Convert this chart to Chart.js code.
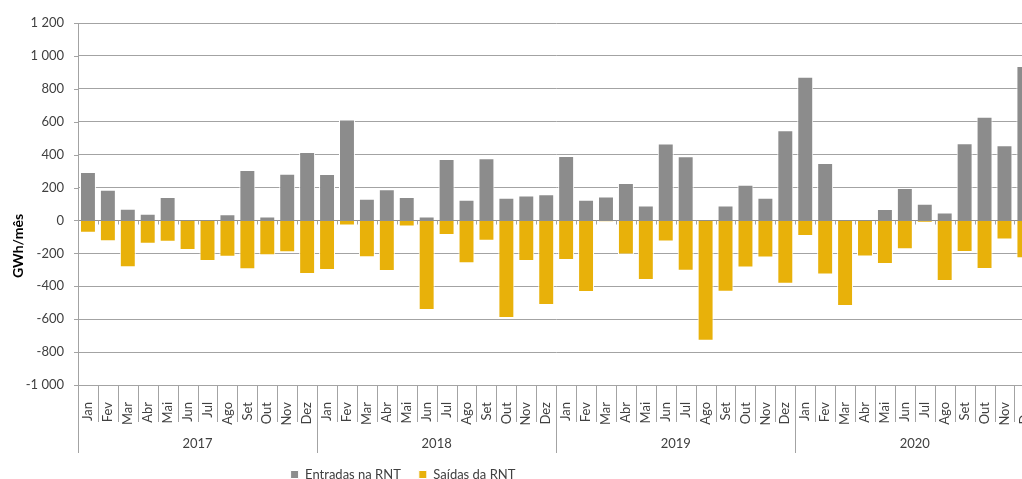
<!DOCTYPE html>
<html><head><meta charset="utf-8">
<script src="https://cdn.jsdelivr.net/npm/chart.js@4.4.0/dist/chart.umd.min.js"></script>
<style>
html,body{margin:0;padding:0;background:#fff;overflow:hidden;width:1022px;height:479px;}
#wrap{position:absolute;left:0;top:0;width:1057px;height:491px;}
</style></head><body>
<div id="wrap"><canvas id="c" width="1057" height="491"></canvas></div>
<script>
const years = ['2017','2018','2019','2020'];
const monthNames = ['Jan','Fev','Mar','Abr','Mai','Jun','Jul','Ago','Set','Out','Nov','Dez'];
const seriesNames = ['Entradas na RNT','Saídas da RNT'];
const entradas = [
  295, 187, 71, 41, 142, 0, 0, 37, 307, 24, 284, 416,
  282, 613, 132, 189, 142, 24, 374, 126, 378, 138, 152, 160,
  392, 126, 146, 227, 91, 467, 390, 0, 91, 217, 138, 548,
  873, 349, 0, 0, 69, 197, 102, 49, 469, 630, 457, 938
];
const saidas = [
  -75, -126, -284, -142, -130, -179, -246, -221, -297, -211, -193, -325,
  -301, -30, -223, -307, -37, -544, -89, -260, -124, -593, -246, -514,
  -240, -435, -8, -207, -362, -128, -305, -731, -433, -286, -225, -384,
  -95, -329, -520, -219, -264, -175, -12, -368, -191, -295, -116, -230
];
const yTickValues = [-1000,-800,-600,-400,-200,0,200,400,600,800,1000,1200];
const yTickLabels = ['-1 000','-800','-600','-400','-200','0','200','400','600','800','1 000','1 200'];
const yTitle = 'GWh/mês';

const labels = [];
years.forEach(y => monthNames.forEach(m => labels.push(m)));

const FONT = 'Lato, "Open Sans", sans-serif';
const GRID = '#a3a3a3';
const TEXT = '#404040';

const decor = {
  id: 'decor',
  beforeDraw(chart) {
    const lg = chart.legend;
    if (lg) { const c = 403; const w = lg.right - lg.left; lg.left = c - w/2; lg.right = c + w/2; }
  },
  afterDraw(chart) {
    const ctx = chart.ctx, x = chart.scales.x, x2 = chart.scales.x2, y = chart.scales.y;
    const area = chart.chartArea;
    const n = labels.length;
    ctx.save();
    ctx.strokeStyle = GRID;
    ctx.lineWidth = 1;
    const y0 = Math.round(y.getPixelForValue(0)) + 0.5;
    for (let i = 0; i <= n; i++) {
      const px = Math.round(x.getPixelForValue(i - 0.5)) + 0.5;
      const isYear = i % monthNames.length === 0;
      ctx.beginPath();
      ctx.moveTo(px, area.bottom);
      ctx.lineTo(px, isYear ? x2.bottom + 3 : area.bottom + 37);
      ctx.stroke();
      ctx.beginPath();
      ctx.moveTo(px, y0);
      ctx.lineTo(px, y0 + 4);
      ctx.stroke();
    }
    yTickValues.forEach(v => {
      const py = Math.round(y.getPixelForValue(v)) + 0.5;
      ctx.beginPath(); ctx.moveTo(area.left - 4, py); ctx.lineTo(area.left, py); ctx.stroke();
    });
    ctx.translate(18, area.top + 223);
    ctx.rotate(-Math.PI / 2);
    ctx.font = 'bold 14px ' + FONT;
    ctx.fillStyle = '#000';
    ctx.textAlign = 'center';
    ctx.textBaseline = 'middle';
    ctx.fillText(yTitle, 0, 0);
    ctx.restore();
  }
};

new Chart(document.getElementById('c'), {
  type: 'bar',
  data: {
    labels: labels,
    datasets: [
      { label: seriesNames[0], data: entradas, backgroundColor: '#8c8c8c', borderColor: '#ffffff', borderWidth: 1, borderSkipped: 'start', barPercentage: 0.8, categoryPercentage: 1 },
      { label: seriesNames[1], data: saidas, backgroundColor: '#e8b10a', borderColor: '#ffffff', borderWidth: 1, borderSkipped: 'start', barPercentage: 0.8, categoryPercentage: 1 }
    ]
  },
  options: {
    responsive: false,
    animation: false,
    devicePixelRatio: 1,
    layout: { padding: { top: 23, right: 0, left: 0, bottom: 0 } },
    plugins: {
      legend: {
        position: 'bottom',
        labels: { boxWidth: 8, boxHeight: 8, padding: 18, color: TEXT, font: { family: FONT, size: 13 } }
      },
      tooltip: { enabled: false }
    },
    scales: {
      x: {
        stacked: true,
        grid: { display: false, drawTicks: false },
        border: { display: true, color: GRID },
        ticks: { autoSkip: false, maxRotation: 90, minRotation: 90, padding: 17, color: TEXT, font: { family: FONT, size: 13 } },
        afterFit(s) { s.height = 42; }
      },
      x2: {
        type: 'category',
        position: 'bottom',
        labels: years,
        offset: true,
        grid: { display: false, drawTicks: false },
        border: { display: false },
        ticks: { autoSkip: false, maxRotation: 0, minRotation: 0, padding: 9, color: TEXT, font: { family: FONT, size: 13 } },
        afterFit(s) { s.height = 23; }
      },
      y: {
        stacked: true,
        min: -1000, max: 1200,
        afterBuildTicks(s) { s.ticks = yTickValues.map(v => ({ value: v })); },
        grid: { color: ctx => (ctx.tick && ctx.tick.value === 0) ? '#8f8f8f' : GRID, drawTicks: false, lineWidth: 1 },
        border: { display: true, color: GRID },
        ticks: {
          padding: 14, color: TEXT, font: { family: FONT, size: 13 },
          callback: v => yTickLabels[yTickValues.indexOf(v)]
        },
        afterFit(s) { s.width = 78; }
      }
    }
  },
  plugins: [decor]
});
</script>
</body></html>
